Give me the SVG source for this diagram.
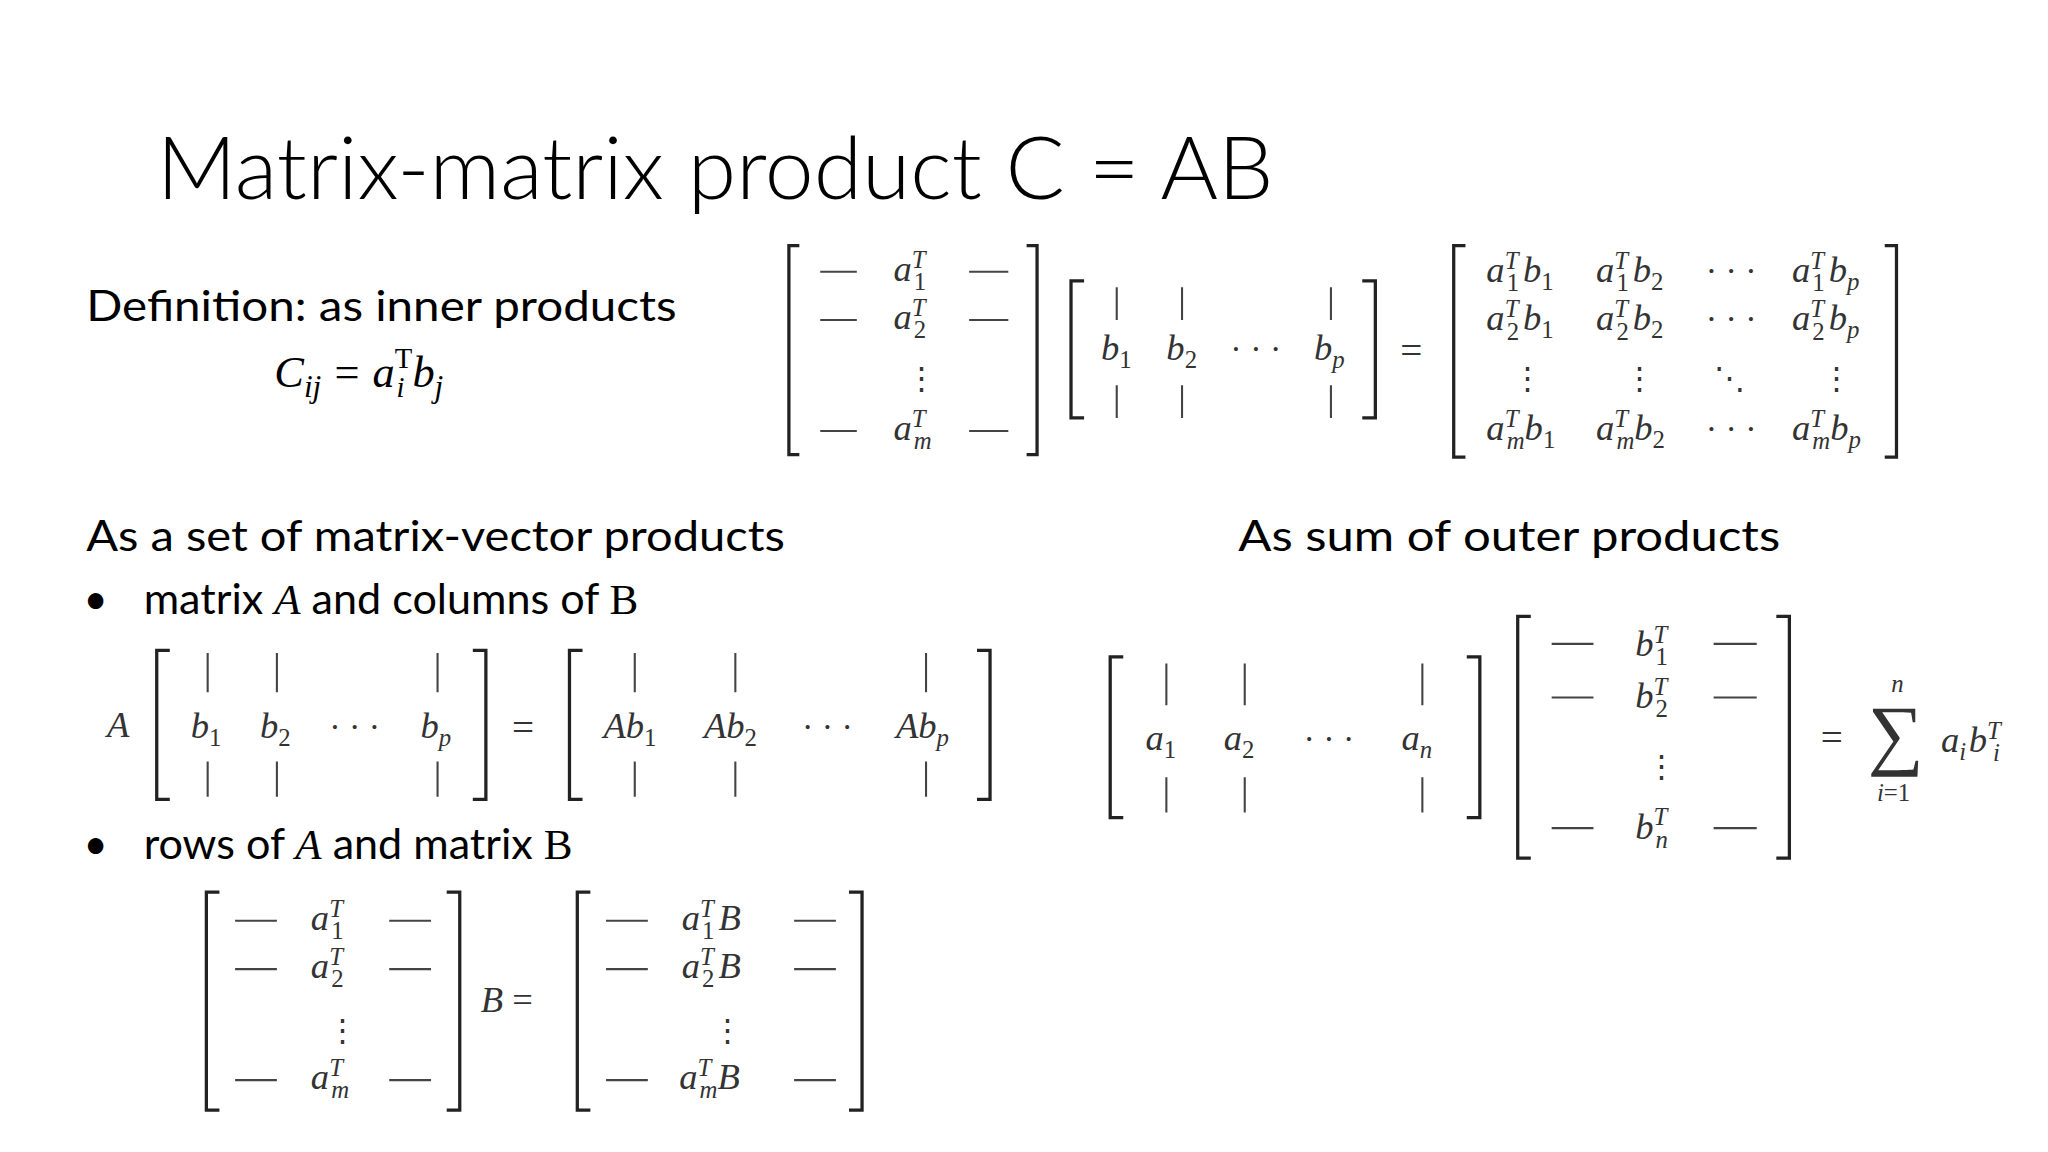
<svg xmlns="http://www.w3.org/2000/svg" width="2048" height="1152" viewBox="0 0 2048 1152">
<style>
.t{font-family:Lato,"Liberation Sans",sans-serif;fill:#000}
.m{font-family:"Liberation Serif",serif;font-style:italic;font-size:28px;fill:#333}
.r{font-family:"Liberation Serif",serif;font-style:normal;fill:#333}
.sp{font-size:19px}
.br{fill:none;stroke:#222;stroke-width:2.5}
.ln{stroke:#444;stroke-width:1.6}
</style>
<rect width="2048" height="1152" fill="#fff"/>
<g transform="scale(1.30612)">
<text class="t" x="120" y="152" style="font-size:66px;font-weight:300" textLength="855" lengthAdjust="spacingAndGlyphs">Matrix-matrix product  C = AB</text>
<text class="t" x="66" y="246" style="font-size:33px" textLength="452" lengthAdjust="spacingAndGlyphs">Definition: as inner products</text>
<text class="m" x="210" y="296" style="font-size:34px;fill:#000">C<tspan style="font-size:24px" dy="8">ij</tspan><tspan class="r" dx="10" dy="-8" style="font-size:34px;fill:#000">=</tspan><tspan dx="10">a</tspan><tspan style="font-size:22px;font-style:normal" dy="-14">T</tspan><tspan style="font-size:22px" dx="-12" dy="22">i</tspan><tspan dy="-8" dx="6">b</tspan><tspan style="font-size:24px" dy="8">j</tspan></text>

<g id="m1">
<path class="br" d="M612 188H604V348H612M786 188H794V348H786"/>
<g class="ln"><path d="M628 208H656M742 208H772M628 245H656M742 245H772M628 330H656M742 330H772"/></g>
<text class="m" x="684" y="215">a<tspan class="sp" dy="-10">T</tspan><tspan class="sp r" dx="-9" dy="17">1</tspan></text>
<text class="m" x="684" y="252">a<tspan class="sp" dy="-10">T</tspan><tspan class="sp r" dx="-9" dy="17">2</tspan></text>
<text class="r" x="694" y="298" style="font-size:24px">⋮</text>
<text class="m" x="684" y="337">a<tspan class="sp" dy="-10">T</tspan><tspan class="sp" dx="-9" dy="17">m</tspan></text>
</g>
<g id="m2">
<path class="br" d="M830 215H820V320H830M1043 215H1053V320H1043"/>
<g class="ln"><path d="M855 220V245M855 295V320M905 220V245M905 295V320M1019 220V245M1019 295V320"/></g>
<text class="m" x="843" y="276">b<tspan class="sp r" dy="6">1</tspan></text>
<text class="m" x="893" y="276">b<tspan class="sp r" dy="6">2</tspan></text>
<text class="r" x="942" y="276" style="font-size:26px">· · ·</text>
<text class="m" x="1006" y="276">b<tspan class="sp" dy="6">p</tspan></text>
</g>
<text class="r" x="1072" y="279" style="font-size:30px">=</text>
<g id="m3">
<path class="br" d="M1122 188H1113V350H1122M1443 188H1452V350H1443"/>
<text class="m" x="1138" y="216">a<tspan class="sp" dy="-10">T</tspan><tspan class="sp r" dx="-9" dy="17">1</tspan><tspan dy="-7" dx="3">b</tspan><tspan class="sp r" dy="6">1</tspan></text>
<text class="m" x="1222" y="216">a<tspan class="sp" dy="-10">T</tspan><tspan class="sp r" dx="-9" dy="17">1</tspan><tspan dy="-7" dx="3">b</tspan><tspan class="sp r" dy="6">2</tspan></text>
<text class="r" x="1306" y="216" style="font-size:26px">· · ·</text>
<text class="m" x="1372" y="216">a<tspan class="sp" dy="-10">T</tspan><tspan class="sp r" dx="-9" dy="17">1</tspan><tspan dy="-7" dx="3">b</tspan><tspan class="sp" dy="6">p</tspan></text>
<text class="m" x="1138" y="253">a<tspan class="sp" dy="-10">T</tspan><tspan class="sp r" dx="-9" dy="17">2</tspan><tspan dy="-7" dx="3">b</tspan><tspan class="sp r" dy="6">1</tspan></text>
<text class="m" x="1222" y="253">a<tspan class="sp" dy="-10">T</tspan><tspan class="sp r" dx="-9" dy="17">2</tspan><tspan dy="-7" dx="3">b</tspan><tspan class="sp r" dy="6">2</tspan></text>
<text class="r" x="1306" y="253" style="font-size:26px">· · ·</text>
<text class="m" x="1372" y="253">a<tspan class="sp" dy="-10">T</tspan><tspan class="sp r" dx="-9" dy="17">2</tspan><tspan dy="-7" dx="3">b</tspan><tspan class="sp" dy="6">p</tspan></text>
<text class="r" x="1158" y="298" style="font-size:24px">⋮</text>
<text class="r" x="1243" y="298" style="font-size:24px">⋮</text>
<text class="r" x="1312" y="298" style="font-size:24px">⋱</text>
<text class="r" x="1394" y="298" style="font-size:24px">⋮</text>
<text class="m" x="1138" y="337">a<tspan class="sp" dy="-10">T</tspan><tspan class="sp" dx="-9" dy="17">m</tspan><tspan dy="-7">b</tspan><tspan class="sp r" dy="6">1</tspan></text>
<text class="m" x="1222" y="337">a<tspan class="sp" dy="-10">T</tspan><tspan class="sp" dx="-9" dy="17">m</tspan><tspan dy="-7">b</tspan><tspan class="sp r" dy="6">2</tspan></text>
<text class="r" x="1306" y="337" style="font-size:26px">· · ·</text>
<text class="m" x="1372" y="337">a<tspan class="sp" dy="-10">T</tspan><tspan class="sp" dx="-9" dy="17">m</tspan><tspan dy="-7">b</tspan><tspan class="sp" dy="6">p</tspan></text>
</g>

<text class="t" x="66" y="422" style="font-size:33px" textLength="535" lengthAdjust="spacingAndGlyphs">As a set of matrix-vector products</text>
<text class="t" x="64" y="470" style="font-size:32px">•</text>
<text class="t" x="110" y="470" style="font-size:33px">matrix <tspan style="font-family:'Liberation Serif';font-style:italic">A</tspan> and columns of <tspan style="font-family:'Liberation Serif'">B</tspan></text>

<g id="mv">
<text class="m" x="82" y="564">A</text>
<path class="br" d="M130 498H120V612H130M362 498H372V612H362"/>
<g class="ln"><path d="M159 500V530M159 583V610M212 500V530M212 583V610M335 500V530M335 583V610"/></g>
<text class="m" x="146" y="565">b<tspan class="sp r" dy="6">1</tspan></text>
<text class="m" x="199" y="565">b<tspan class="sp r" dy="6">2</tspan></text>
<text class="r" x="252" y="565" style="font-size:26px">· · ·</text>
<text class="m" x="322" y="565">b<tspan class="sp" dy="6">p</tspan></text>
<text class="r" x="392" y="567" style="font-size:30px">=</text>
<path class="br" d="M446 498H436V612H446M748 498H758V612H748"/>
<g class="ln"><path d="M486 500V530M486 583V610M563 500V530M563 583V610M709 500V530M709 583V610"/></g>
<text class="m" x="462" y="565">Ab<tspan class="sp r" dy="6">1</tspan></text>
<text class="m" x="539" y="565">Ab<tspan class="sp r" dy="6">2</tspan></text>
<text class="r" x="614" y="565" style="font-size:26px">· · ·</text>
<text class="m" x="686" y="565">Ab<tspan class="sp" dy="6">p</tspan></text>
</g>

<text class="t" x="64" y="658" style="font-size:32px">•</text>
<text class="t" x="110" y="658" style="font-size:33px">rows of <tspan style="font-family:'Liberation Serif';font-style:italic">A</tspan> and matrix <tspan style="font-family:'Liberation Serif'">B</tspan></text>

<g id="rows">
<path class="br" d="M168 683H158V850H168M342 683H352V850H342"/>
<g class="ln"><path d="M180 705H212M298 705H330M180 742H212M298 742H330M180 827H212M298 827H330"/></g>
<text class="m" x="238" y="712">a<tspan class="sp" dy="-10">T</tspan><tspan class="sp r" dx="-9" dy="17">1</tspan></text>
<text class="m" x="238" y="749">a<tspan class="sp" dy="-10">T</tspan><tspan class="sp r" dx="-9" dy="17">2</tspan></text>
<text class="r" x="250" y="797" style="font-size:24px">⋮</text>
<text class="m" x="238" y="834">a<tspan class="sp" dy="-10">T</tspan><tspan class="sp" dx="-9" dy="17">m</tspan></text>
<text class="m" x="368" y="775">B <tspan class="r">=</tspan></text>
<path class="br" d="M452 683H442V850H452M650 683H660V850H650"/>
<g class="ln"><path d="M464 705H496M608 705H640M464 742H496M608 742H640M464 827H496M608 827H640"/></g>
<text class="m" x="522" y="712">a<tspan class="sp" dy="-10">T</tspan><tspan class="sp r" dx="-9" dy="17">1</tspan><tspan dy="-7" dx="3">B</tspan></text>
<text class="m" x="522" y="749">a<tspan class="sp" dy="-10">T</tspan><tspan class="sp r" dx="-9" dy="17">2</tspan><tspan dy="-7" dx="3">B</tspan></text>
<text class="r" x="545" y="797" style="font-size:24px">⋮</text>
<text class="m" x="520" y="834">a<tspan class="sp" dy="-10">T</tspan><tspan class="sp" dx="-9" dy="17">m</tspan><tspan dy="-7">B</tspan></text>
</g>

<text class="t" x="948" y="422" style="font-size:33px" textLength="415" lengthAdjust="spacingAndGlyphs">As sum of outer products</text>
<g id="outer">
<path class="br" d="M860 503H850V626H860M1123 503H1133V626H1123"/>
<g class="ln"><path d="M893 508V540M893 595V622M953 508V540M953 595V622M1089 508V540M1089 595V622"/></g>
<text class="m" x="877" y="574">a<tspan class="sp r" dy="6">1</tspan></text>
<text class="m" x="937" y="574">a<tspan class="sp r" dy="6">2</tspan></text>
<text class="r" x="998" y="574" style="font-size:26px">· · ·</text>
<text class="m" x="1073" y="574">a<tspan class="sp" dy="6">n</tspan></text>
<path class="br" d="M1172 472H1162V657H1172M1360 472H1370V657H1360"/>
<g class="ln"><path d="M1188 493H1220M1312 493H1345M1188 534H1220M1312 534H1345M1188 634H1220M1312 634H1345"/></g>
<text class="m" x="1252" y="502">b<tspan class="sp" dy="-10">T</tspan><tspan class="sp r" dx="-9" dy="17">1</tspan></text>
<text class="m" x="1252" y="542">b<tspan class="sp" dy="-10">T</tspan><tspan class="sp r" dx="-9" dy="17">2</tspan></text>
<text class="r" x="1260" y="595" style="font-size:24px">⋮</text>
<text class="m" x="1252" y="642">b<tspan class="sp" dy="-10">T</tspan><tspan class="sp" dx="-9" dy="17">n</tspan></text>
<text class="r" x="1394" y="575" style="font-size:30px">=</text>
<text class="r" x="1430" y="582" style="font-size:60px">∑</text>
<text class="m" x="1448" y="530" style="font-size:19px">n</text>
<text class="m" x="1437" y="613" style="font-size:19px">i<tspan class="r">=1</tspan></text>
<text class="m" x="1486" y="576">a<tspan class="sp" dy="6">i</tspan><tspan dy="-6" dx="2">b</tspan><tspan class="sp" dy="-10">T</tspan><tspan class="sp" dx="-6" dy="17">i</tspan></text>
</g>
</g>
</svg>
